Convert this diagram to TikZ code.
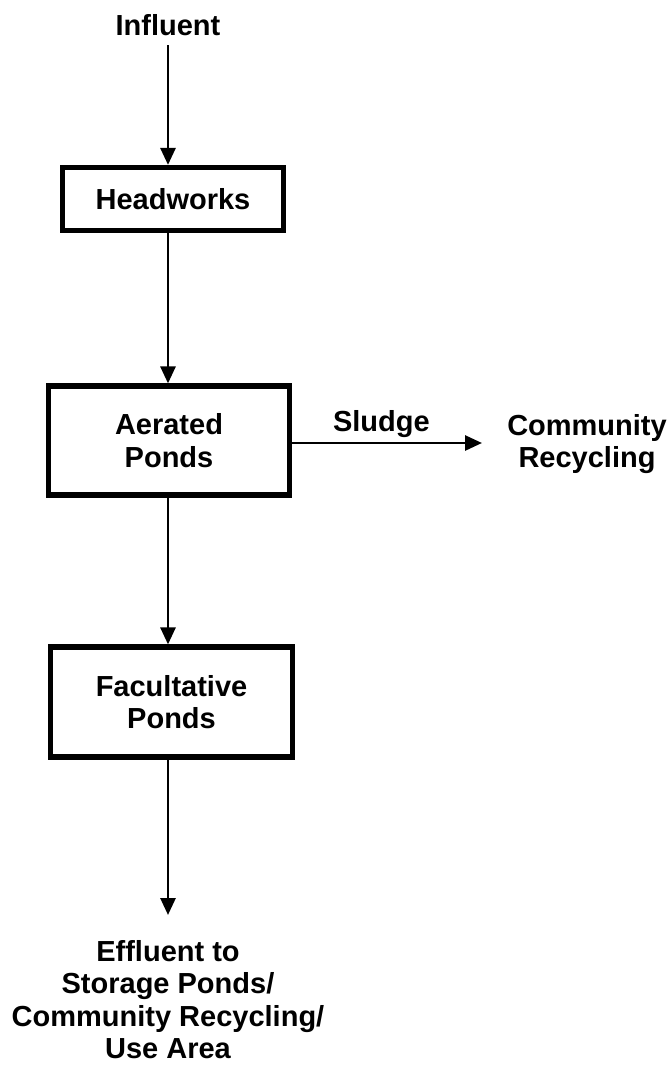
\documentclass[tikz,border=0pt]{standalone}
\usepackage{fontspec}
\setmainfont{Liberation Sans}
\usetikzlibrary{arrows.meta}
\begin{document}
\begin{tikzpicture}[x=1pt,y=-1pt,
  txt/.style={font=\fontsize{29}{32.4}\selectfont\bfseries, align=center, inner sep=0pt},
  stage/.style={txt, draw, line width=5.2pt},
  flow/.style={line width=2.8pt, -{Triangle[length=17pt,width=15pt]}}]
\useasboundingbox (0,0) rectangle (670,1067);
\node[txt, anchor=base] (influent) at (168,36) {Influent};
\node[stage, minimum width=221pt, minimum height=63pt] (head) at (173,199) {Headworks};
\node[stage, minimum width=241pt, minimum height=109pt] (aer) at (169,440.5) {Aerated\\Ponds};
\node[stage, minimum width=242pt, minimum height=110pt] (fac) at (171.5,702) {Facultative\\Ponds};
\node[txt, anchor=north] (comm) at (587,414) {Community\\Recycling};
\node[txt, anchor=north] (eff) at (168,940) {Effluent to\\Storage Ponds/\\Community Recycling/\\Use Area};
\coordinate (sludgeend) at (482,443);
\draw[flow, shorten <=9pt] (influent) -- (influent |- head.north);
\draw[flow] (head.south -| influent) -- (aer.north -| influent);
\draw[flow] (aer.south -| influent) -- (fac.north -| influent);
\draw[flow, shorten >=25pt] (fac.south -| influent) -- (eff.north -| influent);
\draw[flow] ([yshift=-2.5pt]aer.east) -- (sludgeend)
  node[pos=0.47, above, txt, inner sep=4pt] (sludge) {Sludge};
\end{tikzpicture}
\end{document}
